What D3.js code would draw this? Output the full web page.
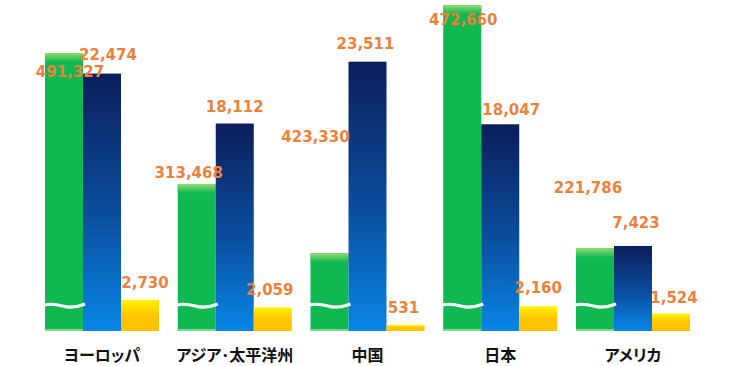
<!DOCTYPE html>
<html>
<head>
<meta charset="utf-8">
<script src="https://cdn.jsdelivr.net/npm/d3@7"></script>
<style>
  body { margin: 0; background: #fff; }
  svg { display: block; }
  .val { font-family: "DejaVu Sans", sans-serif; font-weight: bold; font-size: 15px; fill: #E8823C; }
  .cat { font-family: "Noto Sans CJK JP", sans-serif; font-weight: bold; font-size: 16px; fill: #111; font-feature-settings: "palt"; }
</style>
</head>
<body>
<svg id="chart" width="740" height="366"></svg>
<script>
const categories = ['ヨーロッパ', 'アジア･太平洋州', '中国', '日本', 'アメリカ'];
const series = ['green', 'blue', 'yellow'];

// labelled values
const greenValues = [491327, 313468, 423330, 472660, 221786];
const blueValues = [22474, 18112, 23511, 18047, 7423];
const yellowValues = [2730, 2059, 531, 2160, 1524];

// green bars use a broken axis: drawn height, in blue/yellow units
const greenDrawn = [24270, 12830, 6780, 28460, 7220];

const width = 740, height = 366;
const baseY = 331;

const svg = d3.select('#chart');
const defs = svg.append('defs');

// GRADIENTS
const gGreen = defs.append('linearGradient').attr('id', 'gGreen')
  .attr('x1', 0).attr('y1', 0).attr('x2', 0).attr('y2', 1);
gGreen.append('stop').attr('offset', 0).attr('stop-color', '#93DB6E');
gGreen.append('stop').attr('offset', 1).attr('stop-color', '#10B852');

const gBlue = defs.append('linearGradient').attr('id', 'gBlue')
  .attr('x1', 0).attr('y1', 0).attr('x2', 0).attr('y2', 1);
gBlue.append('stop').attr('offset', 0).attr('stop-color', '#0B1E5B');
gBlue.append('stop').attr('offset', 0.55).attr('stop-color', '#0A4E9E');
gBlue.append('stop').attr('offset', 1).attr('stop-color', '#0886E6');

const gYellow = defs.append('linearGradient').attr('id', 'gYellow')
  .attr('x1', 0).attr('y1', 0).attr('x2', 0).attr('y2', 1);
gYellow.append('stop').attr('offset', 0).attr('stop-color', '#FFF500');
gYellow.append('stop').attr('offset', 0.45).attr('stop-color', '#FFC800');
gYellow.append('stop').attr('offset', 1).attr('stop-color', '#FFC000');

// SCALES
const x0 = d3.scaleBand().domain(categories).range([45, 690]).paddingInner(0.1412);
const x1 = d3.scaleBand().domain(series).range([0, x0.bandwidth()]);
const y = d3.scaleLinear().domain([0, 28460]).range([baseY, 5]);

const rows = categories.map((c, i) => ({
  cat: c,
  green: greenValues[i], greenH: greenDrawn[i],
  blue: blueValues[i], yellow: yellowValues[i]
}));

// fine label nudges (px) to match the original placement
const greenNudge = [[6, 19], [-8, -11], [-14, -116], [1, 15], [-7, -60]];
const blueNudge = [[6, -19], [0, -17], [-2, -18], [11, -14], [3, -23]];
const yellowNudge = [[5, -17], [-3, -17], [-2, -17], [0, -18], [3, -16]];

const fmt = d3.format(',');
const bw = x1.bandwidth();

const group = svg.append('g').selectAll('g')
  .data(rows)
  .enter()
  .append('g')
  .attr('transform', d => `translate(${x0(d.cat)},0)`);

// GREEN
group.append('rect')
  .attr('x', x1('green'))
  .attr('y', d => y(d.greenH))
  .attr('width', bw)
  .attr('height', d => baseY - y(d.greenH))
  .attr('fill', '#10B852');
group.append('rect')
  .attr('x', x1('green'))
  .attr('y', d => y(d.greenH))
  .attr('width', bw)
  .attr('height', 9)
  .attr('fill', 'url(#gGreen)');
group.append('rect')
  .attr('x', x1('green'))
  .attr('y', baseY - 2)
  .attr('width', bw)
  .attr('height', 2)
  .attr('fill', '#7FD98F');

// BLUE
group.append('rect')
  .attr('x', x1('blue'))
  .attr('y', d => y(d.blue))
  .attr('width', bw)
  .attr('height', d => baseY - y(d.blue))
  .attr('fill', 'url(#gBlue)');

// YELLOW
group.append('rect')
  .attr('x', x1('yellow'))
  .attr('y', d => y(d.yellow))
  .attr('width', bw)
  .attr('height', d => baseY - y(d.yellow))
  .attr('fill', 'url(#gYellow)');

// axis break wave on the green bars
const waveY = baseY - 25;
group.append('path')
  .attr('d', () => {
    const a = x1('green') - 1, w = bw + 3;
    return `M${a},${waveY - 1} Q${a + w * 0.2},${waveY - 3} ${a + w * 0.45},${waveY} T${a + w},${waveY - 2}`;
  })
  .attr('fill', 'none')
  .attr('stroke', '#fff')
  .attr('stroke-width', 3);

// VALUE LABELS
group.append('text')
  .attr('class', 'val')
  .attr('text-anchor', 'middle')
  .attr('dominant-baseline', 'central')
  .attr('x', (d, i) => x1('green') + bw / 2 + greenNudge[i][0])
  .attr('y', (d, i) => y(d.greenH) + greenNudge[i][1])
  .text(d => fmt(d.green));

group.append('text')
  .attr('class', 'val')
  .attr('text-anchor', 'middle')
  .attr('dominant-baseline', 'central')
  .attr('x', (d, i) => x1('blue') + bw / 2 + blueNudge[i][0])
  .attr('y', (d, i) => y(d.blue) + blueNudge[i][1])
  .text(d => fmt(d.blue));

group.append('text')
  .attr('class', 'val')
  .attr('text-anchor', 'middle')
  .attr('dominant-baseline', 'central')
  .attr('x', (d, i) => x1('yellow') + bw / 2 + yellowNudge[i][0])
  .attr('y', (d, i) => y(d.yellow) + yellowNudge[i][1])
  .text(d => fmt(d.yellow));

// CATEGORY LABELS
group.append('text')
  .attr('class', 'cat')
  .attr('text-anchor', 'middle')
  .attr('dominant-baseline', 'central')
  .attr('x', x1('blue') + bw / 2)
  .attr('y', 354)
  .text(d => d.cat);
</script>
</body>
</html>
